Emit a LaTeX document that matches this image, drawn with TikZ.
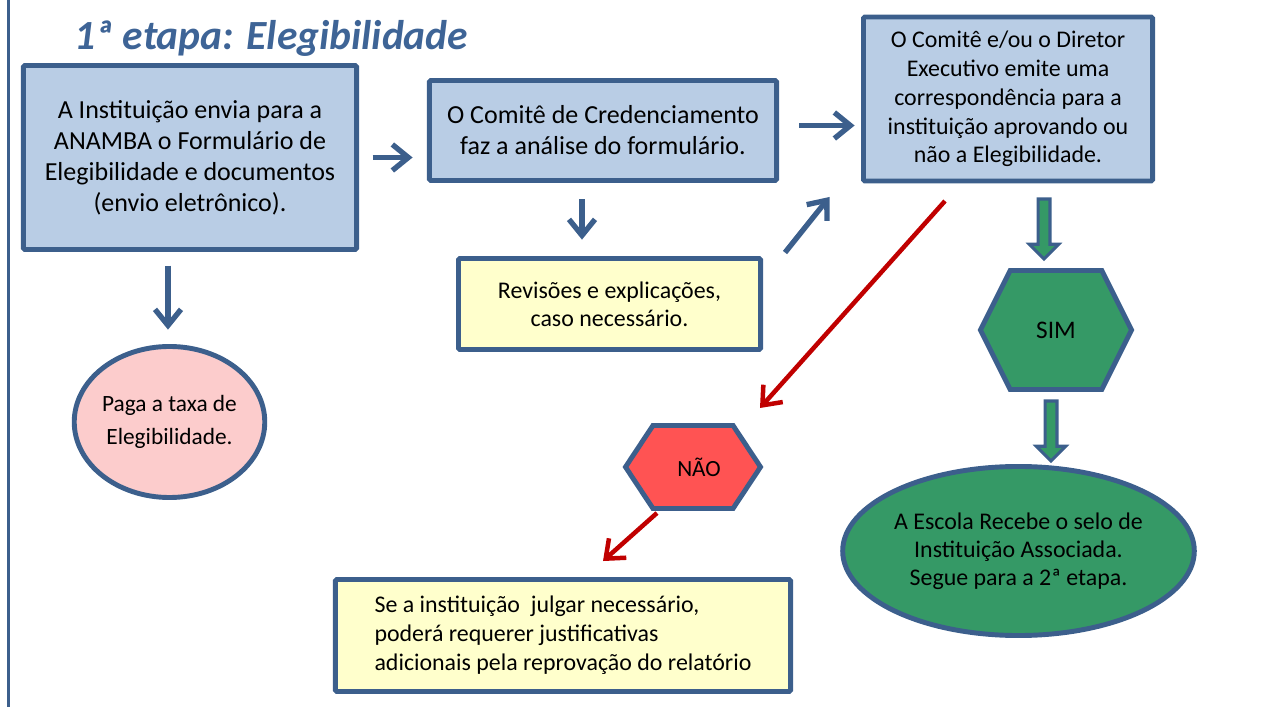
\documentclass[tikz,border=0pt]{standalone}
\usepackage{fontspec}
\setmainfont{Carlito}
\usetikzlibrary{arrows.meta}
\usetikzlibrary{shapes.geometric, shapes.symbols, shapes.arrows}
\usetikzlibrary{positioning}

\definecolor{edgeblue}{RGB}{60,95,140}
\definecolor{titleblue}{RGB}{62,100,150}
\definecolor{boxblue}{RGB}{185,205,229}
\definecolor{noteyellow}{RGB}{255,255,204}
\definecolor{feepink}{RGB}{252,204,204}
\definecolor{nored}{RGB}{255,83,83}
\definecolor{yesgreen}{RGB}{53,153,102}
\definecolor{arrowred}{RGB}{192,0,0}

\tikzset{
  stagebox/.style={rectangle, draw=edgeblue, fill=boxblue, line width=3.5pt, rounded corners=1pt, align=center, font=\fontsize{18.5}{22}\selectfont},
  notebox/.style={stagebox, fill=noteyellow, font=\fontsize{17}{20}\selectfont},
  oval/.style={ellipse, draw=edgeblue, line width=3.5pt, align=center, inner sep=0pt},
  hexa/.style={signal, signal to=east and west, draw=edgeblue, line width=3.5pt, inner sep=0pt},
  flow/.style={draw=edgeblue, line width=3.8pt, -{Straight Barb[length=0.4cm,width=0.65cm]}},
  reject/.style={flow, draw=arrowred, line width=3.2pt},
  bigarrow/.style={single arrow, shape border rotate=270, draw=edgeblue, fill=yesgreen, line width=2.2pt, inner sep=0.11cm, single arrow head extend=0.22cm, single arrow tip angle=90, minimum height=1.5cm}
}

\begin{document}
\begin{tikzpicture}[x=0.025cm,y=-0.025cm]
\useasboundingbox (0,0) rectangle (1270,707);
\draw[edgeblue, line width=1.8pt] (8.5,0) -- (8.5,707);

\node[font=\fontsize{29.5}{36}\selectfont\bfseries\itshape, text=titleblue, anchor=base west, inner sep=0pt] (title) at (74,50) {1ª etapa: Elegibilidade};

% etapas
\node[stagebox, minimum width=8.325cm, minimum height=4.6cm] (envio) at (190,157.5) {A Instituição envia para a\\ANAMBA o Formulário de\\Elegibilidade e documentos\\(envio eletrônico).};
\node[stagebox, minimum width=8.675cm, minimum height=2.5cm] (analise) at (603,130.5) {O Comitê de Credenciamento\\faz a análise do formulário.};
\node[stagebox, font=\fontsize{17}{20.5}\selectfont, minimum width=7.225cm, minimum height=4.1cm] (parecer) at (1008,99) {O Comitê e/ou o Diretor\\Executivo emite uma\\correspondência para a\\instituição aprovando ou\\não a Elegibilidade.};
\node[notebox, minimum width=7.55cm, minimum height=2.275cm] (revisao) at (609.5,304) {Revisões e explicações,\\caso necessário.};
\node[notebox, align=left, font=\fontsize{17}{20.5}\selectfont, minimum width=11.375cm, minimum height=2.8cm] (recurso) at (563,635.5) {Se a instituição~ julgar necessário,\\poderá requerer justificativas\\adicionais pela reprovação do relatório};

% elipses
\node[oval, fill=feepink, font=\fontsize{16.6}{24}\selectfont, minimum width=4.75cm, minimum height=3.775cm] (taxa) at (169.5,422) {Paga a taxa de\\Elegibilidade.};
\node[oval, fill=yesgreen, font=\fontsize{17}{20}\selectfont, minimum width=7.75cm, minimum height=4.225cm] (selo) at (1018.5,551) {A Escola Recebe o selo de\\Instituição Associada.\\Segue para a 2ª etapa.};

% decisao
\node[hexa, fill=nored, signal pointer angle=113, font=\fontsize{16.5}{20}\selectfont, minimum width=3.375cm, minimum height=2.075cm] (nao) at (693,467) {\hspace{0.3cm}NÃO};
\node[hexa, fill=yesgreen, signal pointer angle=127, font=\fontsize{18}{22}\selectfont, minimum width=3.775cm, minimum height=2.975cm] (sim) at (1056,330) {SIM\hspace{0.3cm}};

% setas
\draw[flow, shorten <=0.34cm, shorten >=0.36cm] (envio.east) -- (envio.east -| analise.west);
\draw[flow, shorten <=0.51cm, shorten >=0.16cm] ([yshift=0.125cm]analise.east) -- ([yshift=0.125cm]analise.east -| parecer.west);
\draw[flow, shorten <=0.41cm, shorten >=0.41cm] ([xshift=-0.525cm]analise.south) -- ([xshift=-0.525cm]analise.south |- revisao.north);
\draw[flow] ([xshift=0.55cm,yshift=0.0875cm]revisao.north east) -- ([xshift=-0.7875cm,yshift=-0.3375cm]parecer.south west);
\draw[flow, shorten <=0.34cm, shorten >=0.36cm] ([xshift=-0.55cm]envio.south) -- ([xshift=-0.55cm]envio.south |- taxa.north);
\draw[reject] ([xshift=-1.575cm,yshift=-0.4375cm]parecer.south) -- ([xshift=1.675cm,yshift=1.475cm]nao.center);
\draw[reject] ([xshift=-0.9cm,yshift=-0.05cm]nao.south) -- ([xshift=1cm,yshift=0.4cm]recurso.north);

\node[bigarrow] (sim arrow) at (1044,226) {};
\node[bigarrow] (selo arrow) at (1051,428) {};

\end{tikzpicture}
\end{document}
